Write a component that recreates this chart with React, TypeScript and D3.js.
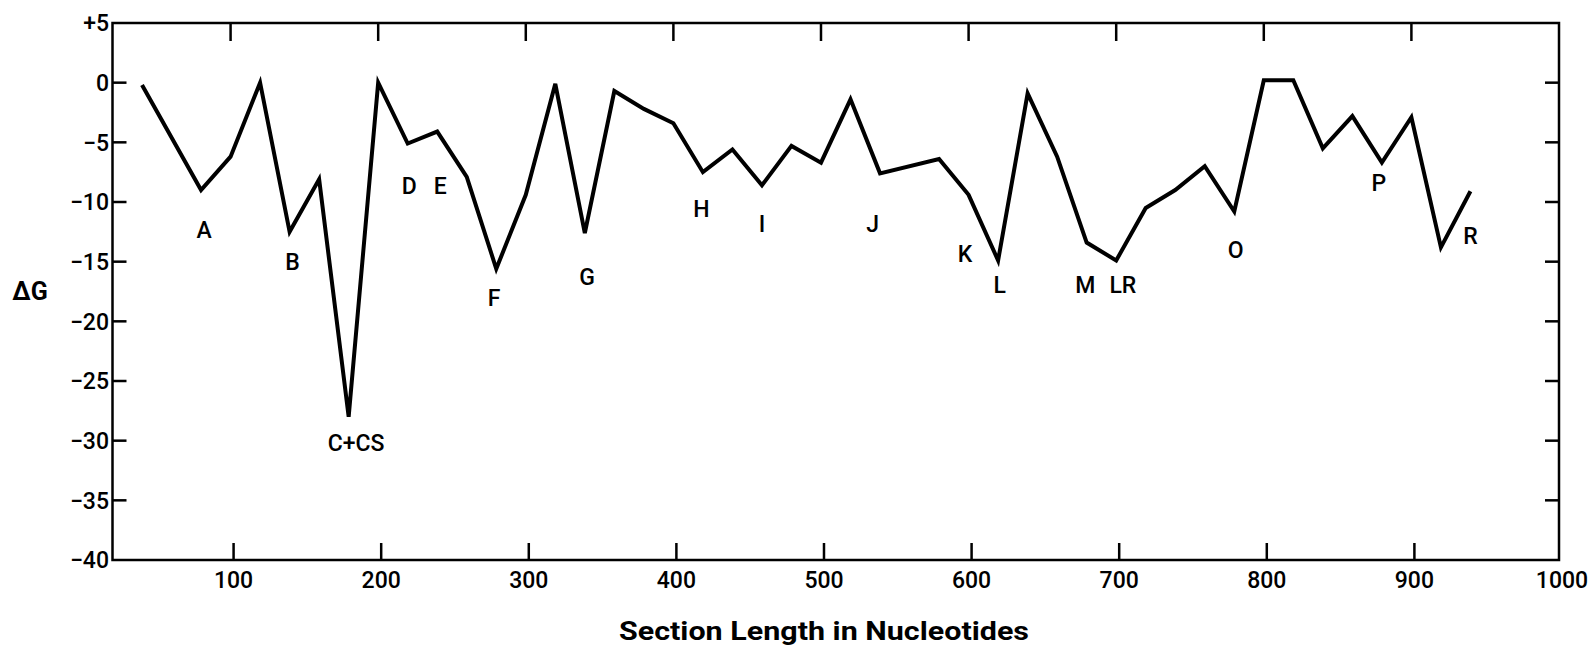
import React from 'react';
import * as d3 from 'd3';

// section positions (nucleotides) and free energy values
const positions = [40, 80, 100, 120, 140, 160, 180, 200, 220, 240, 260, 280, 300, 320, 340, 360, 380, 400, 420, 440, 460, 480, 500, 520, 540, 580, 600, 620, 640, 660, 680, 700, 720, 740, 760, 780, 800, 820, 840, 860, 880, 900, 920, 940];
const deltaG = [-0.2, -9.0, -6.2, 0, -12.5, -8.1, -28.0, 0, -5.1, -4.1, -7.9, -15.6, -9.4, -0.1, -12.6, -0.7, -2.2, -3.4, -7.5, -5.6, -8.6, -5.3, -6.7, -1.4, -7.6, -6.4, -9.4, -14.9, -0.9, -6.2, -13.4, -14.9, -10.5, -9.0, -7.0, -10.8, 0.2, 0.2, -5.5, -2.8, -6.7, -2.9, -13.8, -9.1];

// hairpin labels
const labelText = ['A', 'B', 'C+CS', 'D', 'E', 'F', 'G', 'H', 'I', 'J', 'K', 'L', 'M', 'LR', 'O', 'P', 'R'];
const labelX = [82, 142, 185, 221, 242, 278.5, 341.5, 419, 460, 535, 597.5, 621, 679, 704.5, 781, 878, 940];
const labelY = [-12.35, -15.0, -30.2, -8.6, -8.6, -18.0, -16.3, -10.6, -11.8, -11.8, -14.3, -16.9, -16.9, -16.9, -14.0, -8.4, -12.8];

const xTicks = [100, 200, 300, 400, 500, 600, 700, 800, 900, 1000];
const yTicks = [5, 0, -5, -10, -15, -20, -25, -30, -35, -40];
const yTickLabels = ['+5', '0', '\u22125', '\u221210', '\u221215', '\u221220', '\u221225', '\u221230', '\u221235', '\u221240'];

const W = 1596;
const H = 650;

export default function App() {
  const x = d3.scaleLinear().domain([20, 1000]).range([112.5, 1559]);
  const y = d3.scaleLinear().domain([-40, 5]).range([560, 23]);

  const line = d3.line<number>()
    .x((_, i) => x(positions[i]))
    .y(d => y(d));

  const [x0, x1] = x.range();
  const [y0, y1] = y.range();
  const font = 'Roboto, "Liberation Sans", sans-serif';

  return (
    <svg width={W} height={H} style={{ position: 'absolute', left: 0, top: 0, background: '#fff' }}>
      {/* frame */}
      <rect x={x0} y={y1} width={x1 - x0} height={y0 - y1} fill="none" stroke="#000" strokeWidth={2.5} />

      {/* x ticks, top and bottom, pointing in */}
      {xTicks.filter(t => t < 1000).map(t => (
        <g key={'xt' + t}>
          <line x1={x(t)} x2={x(t)} y1={y1} y2={y1 + 18} stroke="#000" strokeWidth={2.5} />
          <line x1={x(t) + 3} x2={x(t) + 3} y1={y0} y2={y0 - 17} stroke="#000" strokeWidth={2.5} />
        </g>
      ))}
      {xTicks.map(t => (
        <text key={'xl' + t} x={x(t) + 3} y={588} textAnchor="middle" fontFamily={font} fontWeight={500} fontSize={23}>{t}</text>
      ))}

      {/* y ticks, left and right, pointing in */}
      {yTicks.filter(t => t < 5 && t > -40).map(t => (
        <g key={'yt' + t}>
          <line x1={x0} x2={x0 + 14} y1={y(t)} y2={y(t)} stroke="#000" strokeWidth={2.5} />
          <line x1={x1} x2={x1 - 14} y1={y(t)} y2={y(t)} stroke="#000" strokeWidth={2.5} />
        </g>
      ))}
      {yTicks.map((t, i) => (
        <text key={'yl' + t} x={109} y={y(t)} dy="0.36em" textAnchor="end" fontFamily={font} fontWeight={500} fontSize={23}>{yTickLabels[i]}</text>
      ))}

      {/* data line */}
      <path d={line(deltaG) || ''} fill="none" stroke="#000" strokeWidth={4} strokeLinejoin="miter" />

      {/* labels */}
      {labelText.map((s, i) => (
        <text key={'lab' + i} x={x(labelX[i])} y={y(labelY[i])} dy="0.36em" textAnchor="middle" fontFamily={font} fontWeight={500} fontSize={23}>{s}</text>
      ))}

      {/* axis titles */}
      <text x={30} y={300} textAnchor="middle" fontFamily={font} fontWeight={700} fontSize={25}>ΔG</text>
      <text x={824} y={640} textAnchor="middle" fontFamily={font} fontWeight={700} fontSize={26} textLength={410} lengthAdjust="spacingAndGlyphs">Section Length in Nucleotides</text>
    </svg>
  );
}
